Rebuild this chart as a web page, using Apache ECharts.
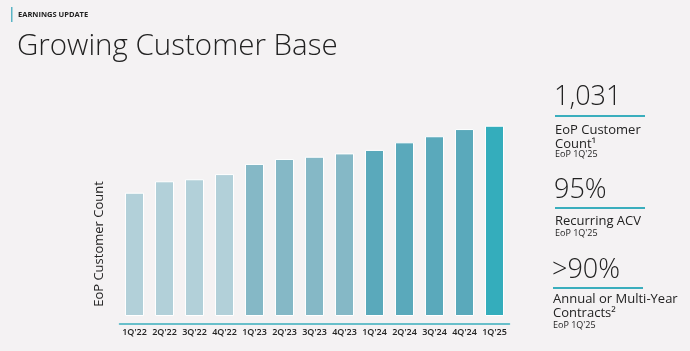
<!DOCTYPE html>
<html>
<head>
<meta charset="utf-8">
<script src="https://cdn.jsdelivr.net/npm/echarts@6/dist/echarts.min.js"></script>
<style>
  html, body { margin: 0; padding: 0; background: #f4f2f3; }
  #chart { width: 690px; height: 351px; }
</style>
</head>
<body>
<div id="chart"></div>
<script>
// quarters and end-of-period customer counts
const quarters = ['1Q\'22', '2Q\'22', '3Q\'22', '4Q\'22', '1Q\'23', '2Q\'23', '3Q\'23', '4Q\'23', '1Q\'24', '2Q\'24', '3Q\'24', '4Q\'24', '1Q\'25']
const customers = [668, 730, 741, 769, 824, 851, 863, 881, 900, 941, 974, 1013, 1031]
const barColors = ['#b2d0d9', '#b2d0d9', '#b2d0d9', '#b2d0d9', '#85b8c6', '#85b8c6', '#85b8c6', '#85b8c6', '#5aa9bb', '#5aa9bb', '#5aa9bb', '#5aa9bb', '#34adbc']

// KPI blocks on the right
const kpiValues = ['1,031', '95%', '>90%']
const kpiLabels = [['EoP Customer', 'Count¹'], ['Recurring ACV'], ['Annual or Multi-Year', 'Contracts²']]
const kpiNotes = ['EoP 1Q\'25', 'EoP 1Q\'25', 'EoP 1Q\'25']

const FONT = '"Open Sans", sans-serif'
const TEAL = '#3aaebd'
const chart = echarts.init(document.getElementById('chart'))

// positions of each KPI block: [x, valueY, lineY, labelY, noteY]
const kpiPos = [
  [555, 97, 116, 130, 154],
  [555, 190, 208, 221, 233],
  [553, 270, 288, 299, 325]
]

const graphics = [
  { type: 'rect', shape: { x: 11, y: 7, width: 1.5, height: 15 }, style: { fill: '#5ab4c5' } },
  { type: 'text', x: 18, y: 15, style: { text: 'EARNINGS UPDATE', font: `700 7.5px ${FONT}`, fill: '#222', verticalAlign: 'middle' } },
  { type: 'text', x: 17, y: 47, style: { text: 'Growing Customer Base', font: `300 29.5px ${FONT}`, fill: '#222', verticalAlign: 'middle' } },
  { type: 'text', x: 99, y: 244, rotation: Math.PI / 2, style: { text: 'EoP Customer Count', font: `400 13px ${FONT}`, fill: '#222', align: 'center', verticalAlign: 'middle' } }
]

kpiValues.forEach((v, i) => {
  const [x, vy, ly, lab, ny] = kpiPos[i]
  graphics.push({ type: 'text', x: x - 1, y: vy, style: { text: v, font: `300 27px ${FONT}`, fill: '#222', verticalAlign: 'middle' } })
  graphics.push({ type: 'rect', shape: { x: x, y: ly - 1, width: 90, height: 2 }, style: { fill: TEAL } })
  kpiLabels[i].forEach((t, j) => {
    graphics.push({ type: 'text', x: x, y: lab + j * 14, style: { text: t, font: `400 13px ${FONT}`, fill: '#222', verticalAlign: 'middle' } })
  })
  graphics.push({ type: 'text', x: x, y: ny, style: { text: kpiNotes[i], font: `400 9px ${FONT}`, fill: '#222', verticalAlign: 'middle' } })
})

chart.setOption({
  backgroundColor: '#f4f2f3',
  animation: false,
  grid: { left: 119.5, right: 180.5, top: 113, bottom: 35 },
  xAxis: {
    type: 'category',
    data: quarters,
    offset: 8,
    axisLine: { onZero: false, lineStyle: { color: TEAL, width: 1.5 } },
    axisTick: { show: false },
    axisLabel: { color: '#222', fontFamily: FONT, fontSize: 9, fontWeight: 600, margin: 4, interval: 0 }
  },
  yAxis: {
    type: 'value',
    min: 0,
    max: 1100,
    show: false
  },
  graphic: graphics,
  series: [{
    type: 'bar',
    barWidth: 19,
    data: customers.map((v, i) => ({ value: v, itemStyle: { color: barColors[i] } })),
    itemStyle: { borderColor: '#ffffff', borderWidth: 1 }
  }]
})
</script>
</body>
</html>
